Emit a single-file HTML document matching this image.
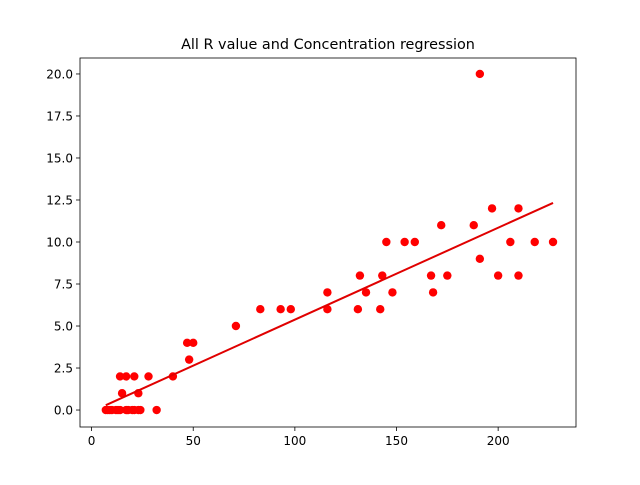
<!DOCTYPE html>
<html><head><meta charset="utf-8"><style>
body{margin:0;background:#fff;font-family:"Liberation Sans","DejaVu Sans",sans-serif}
svg text{font-family:"DejaVu Sans","Liberation Sans",sans-serif}
</style></head><body>
<svg id="chart" width="640" height="480" xmlns="http://www.w3.org/2000/svg"></svg>
<script>
const xValues=[7,8,9,10,12,13,14,17,18,20,21,23,24,32,14,17,21,28,15,23,47,50,48,40,71,83,93,98,116,116,131,132,135,142,143,145,148,154,159,167,168,172,175,188,191,191,197,200,206,210,210,218,227];
const yValues=[0,0,0,0,0,0,0,0,0,0,0,0,0,0,2,2,2,2,1,1,4,4,3,2,5,6,6,6,7,6,6,8,7,6,8,10,7,10,10,8,7,11,8,11,20,9,12,8,10,12,8,10,10];
const xTicks=[0,50,100,150,200];
const yTicks=[0,2.5,5,7.5,10,12.5,15,17.5,20];
const L=80,R=576,T=58,B=427,xmin=-5.7,xmax=238.3,ymin=-1.01,ymax=20.95;
const sx=v=>L+(v-xmin)/(xmax-xmin)*(R-L);
const sy=v=>B-(v-ymin)/(ymax-ymin)*(B-T);
const svg=document.getElementById('chart');const NS='http://www.w3.org/2000/svg';
function mk(t,a,p){const e=document.createElementNS(NS,t);for(const k in a)e.setAttribute(k,a[k]);(p||svg).appendChild(e);return e;}
let e=mk('text',{x:328,y:49,'text-anchor':'middle','font-size':14.4});e.textContent='All R value and Concentration regression';


xTicks.forEach(v=>{const x=sx(v);mk('line',{x1:x,x2:x,y1:B,y2:B+4,stroke:'#000','stroke-width':0.8});
let t=mk('text',{x:x,y:B+18,'text-anchor':'middle','font-size':12});t.textContent=v;

});
yTicks.forEach(v=>{const y=sy(v);mk('line',{x1:L-4,x2:L,y1:y,y2:y,stroke:'#000','stroke-width':0.8});
let t=mk('text',{x:L-7,y:y+4.3,'text-anchor':'end','font-size':12});t.textContent=v.toFixed(1);

});
const n=xValues.length;let mx=0,my=0;for(let i=0;i<n;i++){mx+=xValues[i];my+=yValues[i];}mx/=n;my/=n;
let sxy=0,sxx=0;for(let i=0;i<n;i++){sxy+=(xValues[i]-mx)*(yValues[i]-my);sxx+=(xValues[i]-mx)**2;}
const m=sxy/sxx,b=my-m*mx;
xValues.forEach((v,i)=>{let c=mk('circle',{cx:sx(v),cy:sy(yValues[i]),r:4.2,fill:'#ff0000'});

});
const x0=Math.min(...xValues),x1=Math.max(...xValues);
let ln=mk('line',{x1:sx(x0),y1:sy(m*x0+b),x2:sx(x1),y2:sy(m*x1+b),stroke:'#e00000','stroke-width':2});


let fr=mk('rect',{x:L,y:T,width:R-L,height:B-T,fill:'none',stroke:'#000','stroke-width':0.8});


</script>
</body></html>
